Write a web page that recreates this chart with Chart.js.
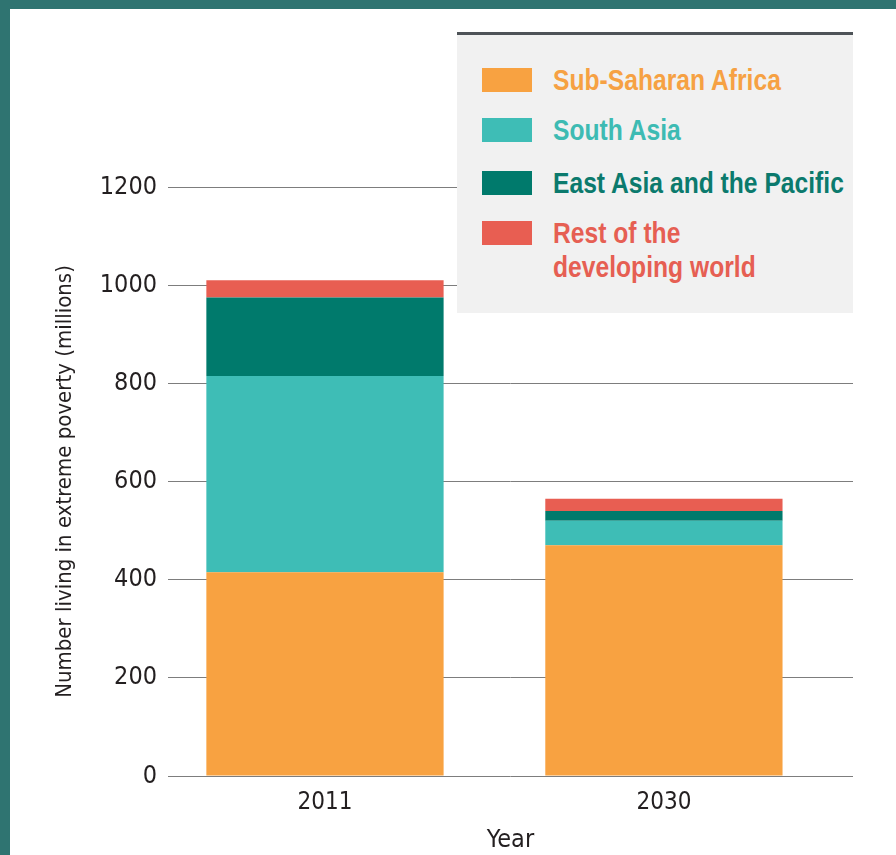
<!DOCTYPE html>
<html>
<head>
<meta charset="utf-8">
<script src="https://cdn.jsdelivr.net/npm/chart.js@4.4.1/dist/chart.umd.min.js"></script>
<style>
  html, body { margin: 0; padding: 0; }
  body { width: 896px; height: 855px; background: #2f7471; position: relative; overflow: hidden; }
  #panel { position: absolute; left: 10px; top: 9px; width: 886px; height: 846px; background: #fff; }
  #panel canvas { position: absolute; left: 0; top: 0; }
  #legend {
    position: absolute; left: 447px; top: 23px; width: 396px; height: 278px;
    background: #f1f1f1; border-top: 3px solid #4e5358;
    font-family: "Liberation Sans", Arial, sans-serif;
  }
  #legend .row { position: absolute; left: 25px; display: flex; align-items: flex-start; }
  #legend .sw { width: 50px; height: 24px; margin-top: 5px; margin-right: 21px; flex: none; }
  #legend .tx {
    font-size: 29px; font-weight: bold; line-height: 34px; white-space: pre;
    transform: scaleX(0.85); transform-origin: 0 50%;
  }
</style>
</head>
<body>
<div id="panel">
  <canvas id="chart" width="886" height="846"></canvas>
  <div id="legend"></div>
</div>
<script>
// values (millions of people)
var years = [2011, 2030];
var subSaharan = [415, 470];
var southAsia = [400, 50];
var eastAsia = [160, 20];
var restWorld = [35, 25];
var yTicks = [0, 200, 400, 600, 800, 1000, 1200];

var colors = {
    ssa: '#f8a241',
    sa: '#3ebdb6',
    eap: '#007a6c',
    rest: '#e85e52'
};
var textColors = ['#f6a143', '#3dbbb3', '#0b7a6d', '#e65f53'];

var font = '"DejaVu Sans Condensed", "Liberation Sans", sans-serif';
var ink = '#231f20';

var data = {
    labels: years,
    datasets: [
        { label: 'Sub-Saharan Africa', data: subSaharan, backgroundColor: colors.ssa },
        { label: 'South Asia', data: southAsia, backgroundColor: colors.sa },
        { label: 'East Asia and the Pacific', data: eastAsia, backgroundColor: colors.eap },
        { label: 'Rest of the\ndeveloping world', data: restWorld, backgroundColor: colors.rest }
    ]
};

var ctx = document.getElementById('chart').getContext('2d');
var chart = new Chart(ctx, {
    type: 'bar',
    data: data,
    options: {
        responsive: false,
        animation: false,
        layout: { padding: { top: 178, right: 43, left: 0, bottom: 0 } },
        datasets: { bar: { categoryPercentage: 0.7, barPercentage: 1, borderWidth: 0 } },
        plugins: { legend: { display: false }, tooltip: { enabled: false } },
        scales: {
            x: {
                type: 'linear',
                stacked: true,
                offset: false,
                min: 2002.2,
                max: 2040.6,
                grid: { display: false },
                border: { display: false },
                afterBuildTicks: function (scale) {
                    scale.ticks = years.map(function (v) { return { value: v }; });
                },
                afterFit: function (scale) { scale.height = 79; },
                ticks: {
                    padding: 4,
                    color: ink,
                    font: { family: font, size: 24 },
                    callback: function (v) { return String(v); }
                },
                title: {
                    display: true,
                    text: 'Year',
                    color: ink,
                    font: { family: font, size: 25 },
                    padding: { top: 0, bottom: 0 }
                }
            },
            y: {
                stacked: true,
                min: 0,
                max: 1200,
                afterBuildTicks: function (scale) {
                    scale.ticks = yTicks.map(function (v) { return { value: v }; });
                },
                afterFit: function (scale) { scale.width = 158; },
                grid: { color: '#7d7d7d', lineWidth: 1, drawTicks: false },
                border: { display: false },
                ticks: {
                    padding: 11,
                    color: ink,
                    font: { family: font, size: 25 },
                    callback: function (v) { return String(v); }
                },
                title: {
                    display: true,
                    text: 'Number living in extreme poverty (millions)',
                    color: ink,
                    font: { family: font, size: 22 },
                    padding: { top: 42, bottom: 0 }
                }
            }
        }
    }
});

// html legend built from the chart's datasets
var legend = document.getElementById('legend');
var rowTops = [28, 78, 131, 181];
chart.data.datasets.forEach(function (ds, i) {
    var row = document.createElement('div');
    row.className = 'row';
    row.style.top = rowTops[i] + 'px';
    var sw = document.createElement('div');
    sw.className = 'sw';
    sw.style.background = ds.backgroundColor;
    var tx = document.createElement('div');
    tx.className = 'tx';
    tx.style.color = textColors[i];
    tx.textContent = ds.label;
    row.appendChild(sw);
    row.appendChild(tx);
    legend.appendChild(row);
});
</script>
</body>
</html>
